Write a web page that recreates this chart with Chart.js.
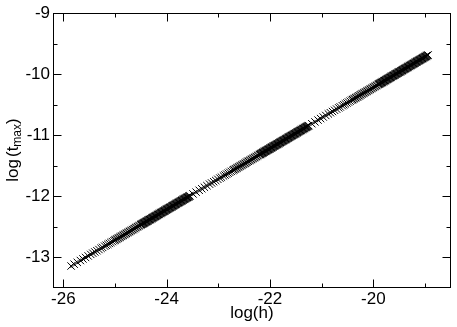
<!DOCTYPE html>
<html>
<head>
<meta charset="utf-8">
<script src="https://cdn.jsdelivr.net/npm/chart.js@4/dist/chart.umd.min.js"></script>
<style>
  html, body { margin: 0; padding: 0; background: #fff; }
  #wrap { width: 457px; height: 327px; }
</style>
</head>
<body>
<div id="wrap"><canvas id="chart" width="457" height="327"></canvas></div>
<script>
// log(h): three decades, sparse at the start of each, dense at the end
const logH = [
  // decade 1
  -25.85, -25.79, -25.73, -25.67, -25.62, -25.57, -25.52, -25.47, -25.43, -25.39,
  -25.35, -25.31, -25.27, -25.24, -25.20, -25.17, -25.14, -25.11, -25.08, -25.05,
  -25.02,
  -25.00, -24.98, -24.96, -24.94, -24.92, -24.90, -24.88, -24.86, -24.84, -24.82,
  -24.80, -24.78, -24.76, -24.74, -24.72, -24.70, -24.68, -24.66, -24.64, -24.62,
  -24.60, -24.58, -24.56, -24.54, -24.52, -24.50,
  -24.49, -24.48, -24.47, -24.46, -24.45, -24.44, -24.43, -24.42, -24.41, -24.40,
  -24.39, -24.38, -24.37, -24.36, -24.35, -24.34, -24.33, -24.32, -24.31, -24.30,
  -24.29, -24.28, -24.27, -24.26, -24.25, -24.24, -24.23, -24.22, -24.21, -24.20,
  -24.19, -24.18, -24.17, -24.16, -24.15, -24.14, -24.13, -24.12, -24.11, -24.10,
  -24.09, -24.08, -24.07, -24.06, -24.05, -24.04, -24.03, -24.02, -24.01, -24.00,
  -23.99, -23.98, -23.97, -23.96, -23.95, -23.94, -23.93, -23.92, -23.91, -23.90,
  -23.89, -23.88, -23.87, -23.86, -23.85, -23.84, -23.83, -23.82, -23.81, -23.80,
  -23.79, -23.78, -23.77, -23.76, -23.75, -23.74, -23.73, -23.72, -23.71, -23.70,
  -23.69, -23.68, -23.67, -23.66, -23.65, -23.64, -23.63, -23.62, -23.61, -23.60,
  -23.59, -23.58, -23.57, -23.56,
  // decade 2
  -23.55, -23.49, -23.43, -23.37, -23.32, -23.27, -23.22, -23.17, -23.13, -23.09,
  -23.05, -23.01, -22.97, -22.94, -22.90, -22.87, -22.84, -22.81, -22.78, -22.75,
  -22.72,
  -22.70, -22.68, -22.66, -22.64, -22.62, -22.60, -22.58, -22.56, -22.54, -22.52,
  -22.50, -22.48, -22.46, -22.44, -22.42, -22.40, -22.38, -22.36, -22.34, -22.32,
  -22.30, -22.28, -22.26, -22.24, -22.22, -22.20,
  -22.19, -22.18, -22.17, -22.16, -22.15, -22.14, -22.13, -22.12, -22.11, -22.10,
  -22.09, -22.08, -22.07, -22.06, -22.05, -22.04, -22.03, -22.02, -22.01, -22.00,
  -21.99, -21.98, -21.97, -21.96, -21.95, -21.94, -21.93, -21.92, -21.91, -21.90,
  -21.89, -21.88, -21.87, -21.86, -21.85, -21.84, -21.83, -21.82, -21.81, -21.80,
  -21.79, -21.78, -21.77, -21.76, -21.75, -21.74, -21.73, -21.72, -21.71, -21.70,
  -21.69, -21.68, -21.67, -21.66, -21.65, -21.64, -21.63, -21.62, -21.61, -21.60,
  -21.59, -21.58, -21.57, -21.56, -21.55, -21.54, -21.53, -21.52, -21.51, -21.50,
  -21.49, -21.48, -21.47, -21.46, -21.45, -21.44, -21.43, -21.42, -21.41, -21.40,
  -21.39, -21.38, -21.37, -21.36, -21.35, -21.34, -21.33, -21.32, -21.31, -21.30,
  -21.29, -21.28, -21.27, -21.26,
  // decade 3
  -21.25, -21.19, -21.13, -21.07, -21.02, -20.97, -20.92, -20.87, -20.83, -20.79,
  -20.75, -20.71, -20.67, -20.64, -20.60, -20.57, -20.54, -20.51, -20.48, -20.45,
  -20.42,
  -20.40, -20.38, -20.36, -20.34, -20.32, -20.30, -20.28, -20.26, -20.24, -20.22,
  -20.20, -20.18, -20.16, -20.14, -20.12, -20.10, -20.08, -20.06, -20.04, -20.02,
  -20.00, -19.98, -19.96, -19.94, -19.92, -19.90,
  -19.89, -19.88, -19.87, -19.86, -19.85, -19.84, -19.83, -19.82, -19.81, -19.80,
  -19.79, -19.78, -19.77, -19.76, -19.75, -19.74, -19.73, -19.72, -19.71, -19.70,
  -19.69, -19.68, -19.67, -19.66, -19.65, -19.64, -19.63, -19.62, -19.61, -19.60,
  -19.59, -19.58, -19.57, -19.56, -19.55, -19.54, -19.53, -19.52, -19.51, -19.50,
  -19.49, -19.48, -19.47, -19.46, -19.45, -19.44, -19.43, -19.42, -19.41, -19.40,
  -19.39, -19.38, -19.37, -19.36, -19.35, -19.34, -19.33, -19.32, -19.31, -19.30,
  -19.29, -19.28, -19.27, -19.26, -19.25, -19.24, -19.23, -19.22, -19.21, -19.20,
  -19.19, -19.18, -19.17, -19.16, -19.15, -19.14, -19.13, -19.12, -19.11, -19.10,
  -19.09, -19.08, -19.07, -19.06, -19.05, -19.04, -19.03, -19.02, -19.01, -19.00,
  -18.99, -18.98, -18.97, -18.96, -18.95, -18.94
];

// log(t_max) for each point above
const logTmax = [
  // decade 1
  -13.140, -13.110, -13.080, -13.050, -13.025, -13.000, -12.975, -12.950, -12.930, -12.910,
  -12.890, -12.870, -12.850, -12.835, -12.815, -12.800, -12.785, -12.770, -12.755, -12.740,
  -12.725,
  -12.715, -12.705, -12.695, -12.685, -12.675, -12.665, -12.655, -12.645, -12.635, -12.625,
  -12.615, -12.605, -12.595, -12.585, -12.575, -12.565, -12.555, -12.545, -12.535, -12.525,
  -12.515, -12.505, -12.495, -12.485, -12.475, -12.465,
  -12.460, -12.455, -12.450, -12.445, -12.440, -12.435, -12.430, -12.425, -12.420, -12.415,
  -12.410, -12.405, -12.400, -12.395, -12.390, -12.385, -12.380, -12.375, -12.370, -12.365,
  -12.360, -12.355, -12.350, -12.345, -12.340, -12.335, -12.330, -12.325, -12.320, -12.315,
  -12.310, -12.305, -12.300, -12.295, -12.290, -12.285, -12.280, -12.275, -12.270, -12.265,
  -12.260, -12.255, -12.250, -12.245, -12.240, -12.235, -12.230, -12.225, -12.220, -12.215,
  -12.210, -12.205, -12.200, -12.195, -12.190, -12.185, -12.180, -12.175, -12.170, -12.165,
  -12.160, -12.155, -12.150, -12.145, -12.140, -12.135, -12.130, -12.125, -12.120, -12.115,
  -12.110, -12.105, -12.100, -12.095, -12.090, -12.085, -12.080, -12.075, -12.070, -12.065,
  -12.060, -12.055, -12.050, -12.045, -12.040, -12.035, -12.030, -12.025, -12.020, -12.015,
  -12.010, -12.005, -12.000, -11.995,
  // decade 2
  -11.990, -11.960, -11.930, -11.900, -11.875, -11.850, -11.825, -11.800, -11.780, -11.760,
  -11.740, -11.720, -11.700, -11.685, -11.665, -11.650, -11.635, -11.620, -11.605, -11.590,
  -11.575,
  -11.565, -11.555, -11.545, -11.535, -11.525, -11.515, -11.505, -11.495, -11.485, -11.475,
  -11.465, -11.455, -11.445, -11.435, -11.425, -11.415, -11.405, -11.395, -11.385, -11.375,
  -11.365, -11.355, -11.345, -11.335, -11.325, -11.315,
  -11.310, -11.305, -11.300, -11.295, -11.290, -11.285, -11.280, -11.275, -11.270, -11.265,
  -11.260, -11.255, -11.250, -11.245, -11.240, -11.235, -11.230, -11.225, -11.220, -11.215,
  -11.210, -11.205, -11.200, -11.195, -11.190, -11.185, -11.180, -11.175, -11.170, -11.165,
  -11.160, -11.155, -11.150, -11.145, -11.140, -11.135, -11.130, -11.125, -11.120, -11.115,
  -11.110, -11.105, -11.100, -11.095, -11.090, -11.085, -11.080, -11.075, -11.070, -11.065,
  -11.060, -11.055, -11.050, -11.045, -11.040, -11.035, -11.030, -11.025, -11.020, -11.015,
  -11.010, -11.005, -11.000, -10.995, -10.990, -10.985, -10.980, -10.975, -10.970, -10.965,
  -10.960, -10.955, -10.950, -10.945, -10.940, -10.935, -10.930, -10.925, -10.920, -10.915,
  -10.910, -10.905, -10.900, -10.895, -10.890, -10.885, -10.880, -10.875, -10.870, -10.865,
  -10.860, -10.855, -10.850, -10.845,
  // decade 3
  -10.840, -10.810, -10.780, -10.750, -10.725, -10.700, -10.675, -10.650, -10.630, -10.610,
  -10.590, -10.570, -10.550, -10.535, -10.515, -10.500, -10.485, -10.470, -10.455, -10.440,
  -10.425,
  -10.415, -10.405, -10.395, -10.385, -10.375, -10.365, -10.355, -10.345, -10.335, -10.325,
  -10.315, -10.305, -10.295, -10.285, -10.275, -10.265, -10.255, -10.245, -10.235, -10.225,
  -10.215, -10.205, -10.195, -10.185, -10.175, -10.165,
  -10.160, -10.155, -10.150, -10.145, -10.140, -10.135, -10.130, -10.125, -10.120, -10.115,
  -10.110, -10.105, -10.100, -10.095, -10.090, -10.085, -10.080, -10.075, -10.070, -10.065,
  -10.060, -10.055, -10.050, -10.045, -10.040, -10.035, -10.030, -10.025, -10.020, -10.015,
  -10.010, -10.005, -10.000, -9.995, -9.990, -9.985, -9.980, -9.975, -9.970, -9.965,
  -9.960, -9.955, -9.950, -9.945, -9.940, -9.935, -9.930, -9.925, -9.920, -9.915,
  -9.910, -9.905, -9.900, -9.895, -9.890, -9.885, -9.880, -9.875, -9.870, -9.865,
  -9.860, -9.855, -9.850, -9.845, -9.840, -9.835, -9.830, -9.825, -9.820, -9.815,
  -9.810, -9.805, -9.800, -9.795, -9.790, -9.785, -9.780, -9.775, -9.770, -9.765,
  -9.760, -9.755, -9.750, -9.745, -9.740, -9.735, -9.730, -9.725, -9.720, -9.715,
  -9.710, -9.705, -9.700, -9.695, -9.690, -9.685
];

// axis ticks
const xTicks = [-26, -24, -22, -20];
const xMinorTicks = [-25, -23, -21, -19];
const yTicks = [-13, -12, -11, -10, -9];
const yMinorTicks = [-12.5, -11.5, -10.5, -9.5];

const FONT = '"Liberation Sans", Arial, Helvetica, sans-serif';

// Frame, inward ticks on all four sides, and the axis titles
const frameAndTitles = {
    id: 'frameAndTitles',
    afterDraw(chart) {
        const ctx = chart.ctx;
        const a = chart.chartArea;
        const xs = chart.scales.x;
        const ys = chart.scales.y;
        const L = Math.round(a.left) + 0.5;
        const R = Math.round(a.right) - 0.5;
        const T = Math.round(a.top) + 0.5;
        const B = Math.round(a.bottom) - 0.5;

        ctx.save();
        ctx.strokeStyle = '#000';
        ctx.lineWidth = 1;
        ctx.strokeRect(L, T, R - L, B - T);

        ctx.beginPath();
        function xTick(v, len) {
            const px = Math.round(xs.getPixelForValue(v)) + 0.5;
            ctx.moveTo(px, B); ctx.lineTo(px, B - len);
            ctx.moveTo(px, T); ctx.lineTo(px, T + len);
        }
        function yTick(v, len) {
            const py = Math.round(ys.getPixelForValue(v)) + 0.5;
            ctx.moveTo(L, py); ctx.lineTo(L + len, py);
            ctx.moveTo(R, py); ctx.lineTo(R - len, py);
        }
        xTicks.forEach(v => xTick(v, 8));
        xMinorTicks.forEach(v => xTick(v, 4));
        yTicks.forEach(v => yTick(v, 8));
        yMinorTicks.forEach(v => yTick(v, 4));
        ctx.stroke();

        // x title
        ctx.fillStyle = '#000';
        ctx.font = '17px ' + FONT;
        ctx.textAlign = 'center';
        ctx.textBaseline = 'alphabetic';
        ctx.fillText('log(h)', (a.left + a.right) / 2, 318);

        // y title with subscript, rotated
        const big = '17px ' + FONT;
        const small = '12px ' + FONT;
        const gap = 2;
        ctx.font = big;
        const wLog = ctx.measureText('log').width;
        const wT = ctx.measureText('(t').width;
        const wEnd = ctx.measureText(')').width;
        ctx.font = small;
        const wSub = ctx.measureText('max').width;
        const total = wLog + gap + wT + wSub + wEnd;
        ctx.translate(18, 150);
        ctx.rotate(-Math.PI / 2);
        ctx.textAlign = 'left';
        let x0 = -total / 2;
        ctx.font = big;
        ctx.fillText('log', x0, 0);
        x0 += wLog + gap;
        ctx.fillText('(t', x0, 0);
        x0 += wT;
        ctx.font = small;
        ctx.fillText('max', x0, 3);
        x0 += wSub;
        ctx.font = big;
        ctx.fillText(')', x0, 0);
        ctx.restore();
    }
};

const points = logH.map((v, i) => ({ x: v, y: logTmax[i] }));

new Chart(document.getElementById('chart'), {
    type: 'scatter',
    data: {
        datasets: [{
            data: points,
            showLine: false,
            pointStyle: 'crossRot',
            pointRadius: 5.2,
            pointHoverRadius: 5.2,
            borderColor: '#000',
            backgroundColor: '#000',
            borderWidth: 1
        }]
    },
    options: {
        responsive: false,
        animation: false,
        events: [],
        layout: { padding: { top: 7, right: 2, left: 0, bottom: 0 } },
        plugins: {
            legend: { display: false },
            tooltip: { enabled: false }
        },
        scales: {
            x: {
                type: 'linear',
                position: 'bottom',
                min: -26.2,
                max: -18.5,
                grid: { display: false, drawTicks: false },
                border: { display: false },
                ticks: {
                    color: '#000',
                    padding: 1,
                    font: { family: FONT, size: 17 },
                    maxRotation: 0
                },
                afterBuildTicks: s => { s.ticks = xTicks.map(v => ({ value: v })); },
                afterFit: s => { s.height = 39; }
            },
            y: {
                type: 'linear',
                min: -13.5,
                max: -9,
                grid: { display: false, drawTicks: false },
                border: { display: false },
                ticks: {
                    color: '#000',
                    padding: 3,
                    font: { family: FONT, size: 17 }
                },
                afterBuildTicks: s => { s.ticks = yTicks.map(v => ({ value: v })); },
                afterFit: s => { s.width = 53; }
            }
        }
    },
    plugins: [frameAndTitles]
});
</script>
</body>
</html>
